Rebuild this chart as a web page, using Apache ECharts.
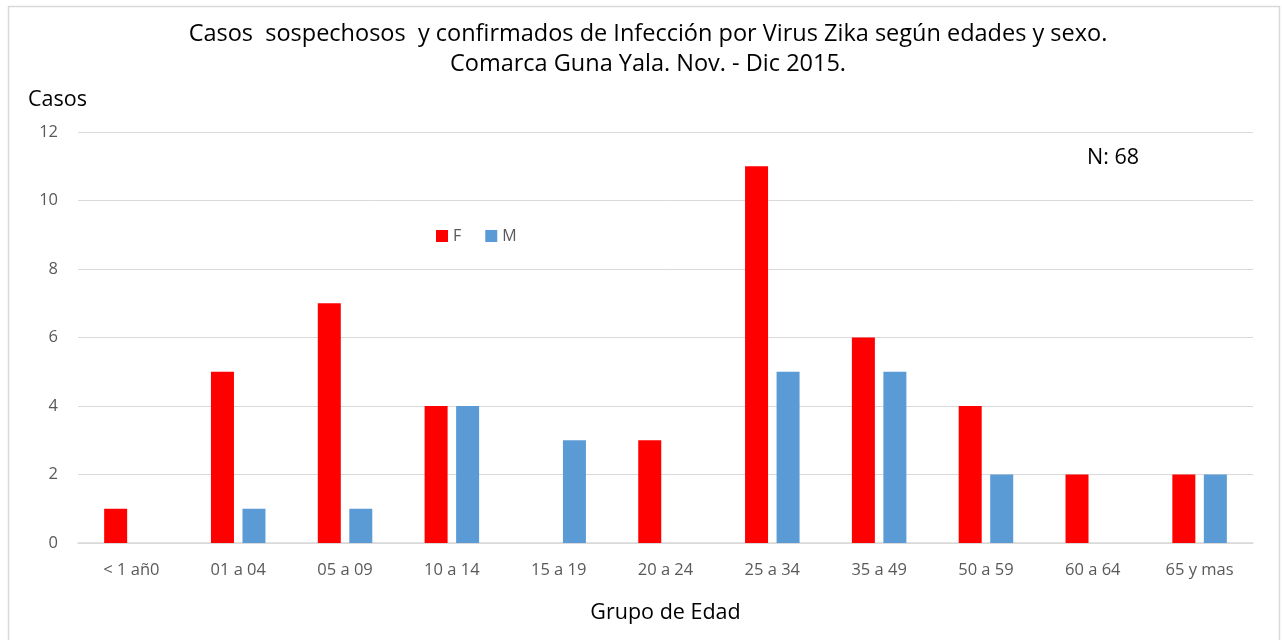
<!DOCTYPE html>
<html><head><meta charset="utf-8">
<script src="https://cdn.jsdelivr.net/npm/echarts@6/dist/echarts.min.js"></script>
<style>html,body{margin:0;padding:0;background:#fff}#c{width:1282px;height:640px}</style>
</head><body><div id="c"></div>
<script>
const categories = ['< 1 añ0','01 a 04','05 a 09','10 a 14','15 a 19','20 a 24','25 a 34','35 a 49','50 a 59','60 a 64','65 y mas'];
const valuesF = [1,5,7,4,0,3,11,6,4,2,2];
const valuesM = [0,1,1,4,3,0,5,5,2,0,2];
const seriesNames = ['F','M'];
const yTicks = {min:0, max:12, interval:2};
const FONT = '"Open Sans", Lato, sans-serif';
const chart = echarts.init(document.getElementById('c'));
chart.setOption({
  animation:false,
  backgroundColor:'#fff',
  title:{text:'Casos  sospechosos  y confirmados de Infección por Virus Zika según edades y sexo.\nComarca Guna Yala. Nov. - Dic 2015.',
    left:643, textAlign:'center', top:14,
    textStyle:{fontFamily:FONT, fontSize:23.5, fontWeight:'normal', color:'#000', lineHeight:30}},
  legend:{data:seriesNames, left:431, top:223, itemWidth:12, itemHeight:12, itemGap:24,
    icon:'rect', textStyle:{fontFamily:FONT, fontSize:16, color:'#595959'}},
  grid:{left:78, right:29, top:132, bottom:97, containLabel:false},
  xAxis:{type:'category', data:categories,
    axisLine:{lineStyle:{color:'#D9D9D9', width:1.5}}, axisTick:{show:false},
    axisLabel:{fontFamily:FONT, fontSize:16.5, color:'#595959', margin:19},
    name:'Grupo de Edad', nameLocation:'middle', nameGap:59,
    nameTextStyle:{fontFamily:FONT, fontSize:21.5, color:'#000'}},
  yAxis:{type:'value', min:yTicks.min, max:yTicks.max, interval:yTicks.interval,
    axisLine:{show:false}, axisTick:{show:false},
    splitLine:{lineStyle:{color:'#D9D9D9', width:1}},
    axisLabel:{fontFamily:FONT, fontSize:16.5, color:'#595959', margin:20}},
  series:[
    {name:seriesNames[0], type:'bar', data:valuesF, barWidth:23, barGap:'37%', itemStyle:{color:'#FF0000'}},
    {name:seriesNames[1], type:'bar', data:valuesM, barWidth:23, itemStyle:{color:'#5B9BD5'}}
  ],
  graphic:[
    {type:'rect', shape:{x:8.5, y:6.5, width:1271, height:640}, style:{fill:'none', stroke:'#D9D9D9', lineWidth:1.5}, silent:true},
    {type:'text', left:28, top:89, style:{text:'Casos', font:'21.5px '+FONT, fill:'#000'}},
    {type:'text', left:1087, top:147, style:{text:'N: 68', font:'21.5px '+FONT, fill:'#000'}}
  ]
});
</script></body></html>
